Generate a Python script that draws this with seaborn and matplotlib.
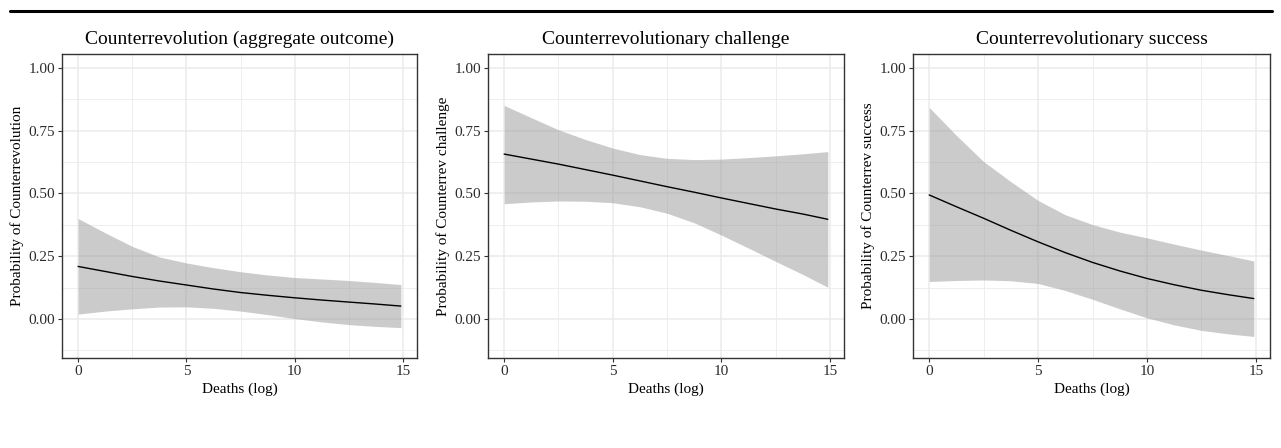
import numpy as np
import pandas as pd
import matplotlib
matplotlib.use("Agg")
import matplotlib.pyplot as plt
from matplotlib.lines import Line2D
from matplotlib.ticker import MultipleLocator
import seaborn as sns

# ---- data ----
deaths_log = [0, 1.25, 2.5, 3.75, 5, 6.25, 7.5, 8.75, 10, 11.25, 12.5, 13.75, 14.9]

titles = ["Counterrevolution (aggregate outcome)",
          "Counterrevolutionary challenge",
          "Counterrevolutionary success"]
ylabels = ["Probability of Counterrevolution",
           "Probability of Counterrev challenge",
           "Probability of Counterrev success"]
xlabel = "Deaths (log)"

agg_fit = [0.209, 0.189, 0.169, 0.151, 0.135, 0.119, 0.105, 0.094, 0.084, 0.075, 0.067, 0.059, 0.051]
agg_hi = [0.400, 0.343, 0.289, 0.247, 0.223, 0.204, 0.188, 0.175, 0.165, 0.159, 0.153, 0.145, 0.137]
agg_lo = [0.019, 0.031, 0.040, 0.047, 0.048, 0.042, 0.031, 0.017, 0.001, -0.012, -0.023, -0.030, -0.035]

chal_fit = [0.657, 0.637, 0.617, 0.595, 0.573, 0.550, 0.527, 0.505, 0.482, 0.460, 0.438, 0.418, 0.397]
chal_hi = [0.851, 0.802, 0.754, 0.715, 0.681, 0.655, 0.640, 0.635, 0.637, 0.643, 0.650, 0.658, 0.667]
chal_lo = [0.459, 0.466, 0.470, 0.469, 0.463, 0.447, 0.421, 0.383, 0.334, 0.282, 0.229, 0.177, 0.126]

succ_fit = [0.494, 0.447, 0.401, 0.353, 0.307, 0.264, 0.225, 0.191, 0.161, 0.136, 0.114, 0.096, 0.081]
succ_hi = [0.843, 0.731, 0.627, 0.547, 0.472, 0.415, 0.376, 0.346, 0.323, 0.298, 0.274, 0.252, 0.231]
succ_lo = [0.149, 0.153, 0.155, 0.152, 0.141, 0.113, 0.078, 0.040, 0.004, -0.024, -0.046, -0.060, -0.070]

yticks = [0.00, 0.25, 0.50, 0.75, 1.00]
ytick_labels = ["0.00", "0.25", "0.50", "0.75", "1.00"]
xticks = [0, 5, 10, 15]
xtick_labels = ["0", "5", "10", "15"]

series = [(agg_fit, agg_lo, agg_hi), (chal_fit, chal_lo, chal_hi), (succ_fit, succ_lo, succ_hi)]

# ---- style ----
sns.set_theme(style="whitegrid")
plt.rcParams["font.family"] = ["Liberation Serif", "DejaVu Serif"]
plt.rcParams["axes.edgecolor"] = "#333333"

W, H = 1281, 448
fig = plt.figure(figsize=(W / 100, H / 100), dpi=100)
fig.patch.set_facecolor("white")

# panel boxes in pixels: left, right, top, bottom
boxes = [(62, 417, 54, 358), (488, 844, 54, 358), (913, 1270, 54, 358)]

for (l, r, t, b), title, ylab, (fit, lo, hi) in zip(boxes, titles, ylabels, series):
    ax = fig.add_axes([l / W, (H - b) / H, (r - l) / W, (b - t) / H])
    df = pd.DataFrame({"x": deaths_log, "fit": fit, "lo": lo, "hi": hi})
    ax.set_axisbelow(True)
    ax.fill_between(df["x"], df["lo"], df["hi"], color="#999999", alpha=0.5,
                    linewidth=0, zorder=2)
    sns.lineplot(data=df, x="x", y="fit", ax=ax, color="black", linewidth=1.0,
                 zorder=3)
    ax.set_xlim(-0.745, 15.645)
    ax.set_ylim(-0.156, 1.056)
    ax.set_xticks(xticks)
    ax.set_xticklabels(xtick_labels)
    ax.set_yticks(yticks)
    ax.set_yticklabels(ytick_labels)
    ax.xaxis.set_minor_locator(MultipleLocator(2.5))
    ax.yaxis.set_minor_locator(MultipleLocator(0.125))
    ax.grid(which="major", color="#EBEBEB", linewidth=1.1)
    ax.grid(which="minor", color="#EBEBEB", linewidth=0.6)
    ax.tick_params(which="major", axis="both", length=3, width=0.8, color="#333333",
                   labelsize=11, labelcolor="#2b2b2b", pad=2, direction="out",
                   bottom=True, left=True)
    ax.tick_params(which="minor", length=0)
    for s in ax.spines.values():
        s.set_color("#333333")
        s.set_linewidth(1.0)
    ax.set_title(title, fontsize=14, pad=7, color="black")
    ax.set_xlabel(xlabel, fontsize=11, labelpad=3, color="black")
    ax.set_ylabel(ylab, fontsize=11, labelpad=3, color="black")

# top rule
fig.add_artist(Line2D([10 / W, 1272 / W], [(H - 11) / H, (H - 11) / H],
                      color="black", linewidth=2.2, transform=fig.transFigure))

fig.savefig("out.png", dpi=100, facecolor="white")
